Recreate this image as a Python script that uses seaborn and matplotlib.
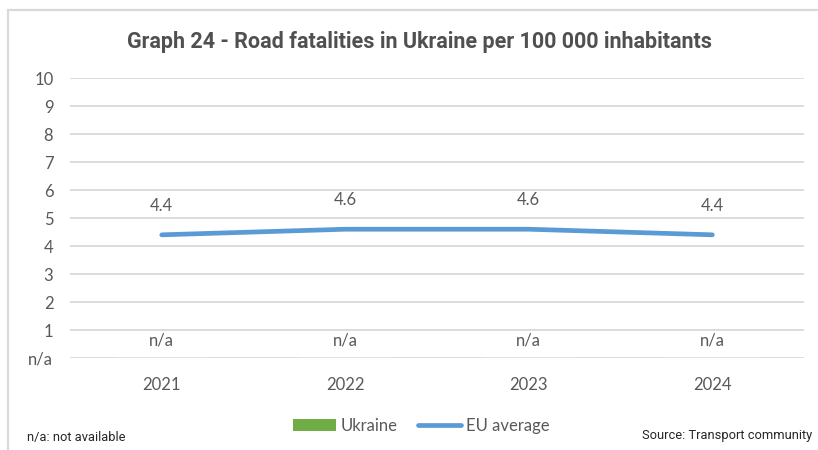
import numpy as np
import pandas as pd
import matplotlib
matplotlib.use("Agg")
import matplotlib.pyplot as plt
import seaborn as sns
from matplotlib.patches import Patch, Rectangle
from matplotlib.lines import Line2D

# data
years = ["2021", "2022", "2023", "2024"]
ukraine = [np.nan, np.nan, np.nan, np.nan]   # n/a in the source
eu_average = [4.4, 4.6, 4.6, 4.4]
ytick_vals = list(range(0, 11))
ytick_labels = ["n/a"] + [str(v) for v in range(1, 11)]

df = pd.DataFrame({"year": years, "Ukraine": ukraine, "EU average": eu_average})
df["Ukraine_plot"] = df["Ukraine"].fillna(0)

sns.set_theme(style="white")
plt.rcParams["font.family"] = ["Lato", "DejaVu Sans"]

GREY_TXT = "#595959"
GRID = "#D9D9D9"
GREEN = "#70AD47"
BLUE = "#5B9BD5"

fig = plt.figure(figsize=(8.18, 4.5), dpi=100)
ax = fig.add_axes([0.0856, 0.2044, 0.8974, 0.6222])

sns.barplot(data=df, x="year", y="Ukraine_plot", color=GREEN, width=0.5, ax=ax)
sns.lineplot(data=df, x="year", y="EU average", color=BLUE, linewidth=3.4,
             sort=False, ax=ax, solid_capstyle="round")

ax.set_ylim(0, 10)
ax.set_xlim(-0.5, 3.5)
ax.set_yticks(ytick_vals)
ax.set_yticklabels(ytick_labels)
ax.yaxis.grid(True, color=GRID, linewidth=1.3)
ax.set_axisbelow(True)
for s in ax.spines.values():
    s.set_visible(False)
ax.tick_params(axis="both", length=0, labelsize=12, colors=GREY_TXT)
ax.tick_params(axis="x", pad=14)
ax.tick_params(axis="y", pad=12)
ax.set_xlabel("")
ax.set_ylabel("")

# data labels
for i, (u, e) in enumerate(zip(df["Ukraine"], df["EU average"])):
    ax.annotate(f"{e:.1f}", (i, e), xytext=(0, 15), textcoords="offset points",
                ha="center", va="bottom", fontsize=12, color=GREY_TXT)
    ulab = "n/a" if pd.isna(u) else f"{u:.1f}"
    ax.annotate(ulab, (i, 0), xytext=(0, 7), textcoords="offset points",
                ha="center", va="bottom", fontsize=12, color=GREY_TXT)

fig.text(0.513, 0.907, "Graph 24 - Road fatalities in Ukraine per 100 000 inhabitants",
         ha="center", va="center", fontsize=15.5, fontweight="bold",
         color="#505050", family=["Roboto", "DejaVu Sans"])

handles = [Patch(facecolor=GREEN, edgecolor="none"),
           Line2D([0], [0], color=BLUE, linewidth=3.4, solid_capstyle="round")]
fig.legend(handles, ["Ukraine", "EU average"], loc="center", ncol=2,
           bbox_to_anchor=(0.515, 0.053), frameon=False, fontsize=12,
           labelcolor=GREY_TXT, handlelength=2.6, handletextpad=0.3,
           columnspacing=1.2)

fig.text(0.033, 0.013, "n/a: not available", ha="left", va="bottom",
         fontsize=9.3, color="#262626", family=["Roboto", "DejaVu Sans"])
fig.text(0.993, 0.018, "Source: Transport community", ha="right", va="bottom",
         fontsize=9.3, color="#262626", family=["Roboto", "DejaVu Sans"])

# chart frame
fig.add_artist(Rectangle((0.0098, -0.1), 1.2, 0.978 + 0.1, transform=fig.transFigure,
                         fill=False, edgecolor=GRID, linewidth=1.6))

fig.savefig("out.png", dpi=100)
